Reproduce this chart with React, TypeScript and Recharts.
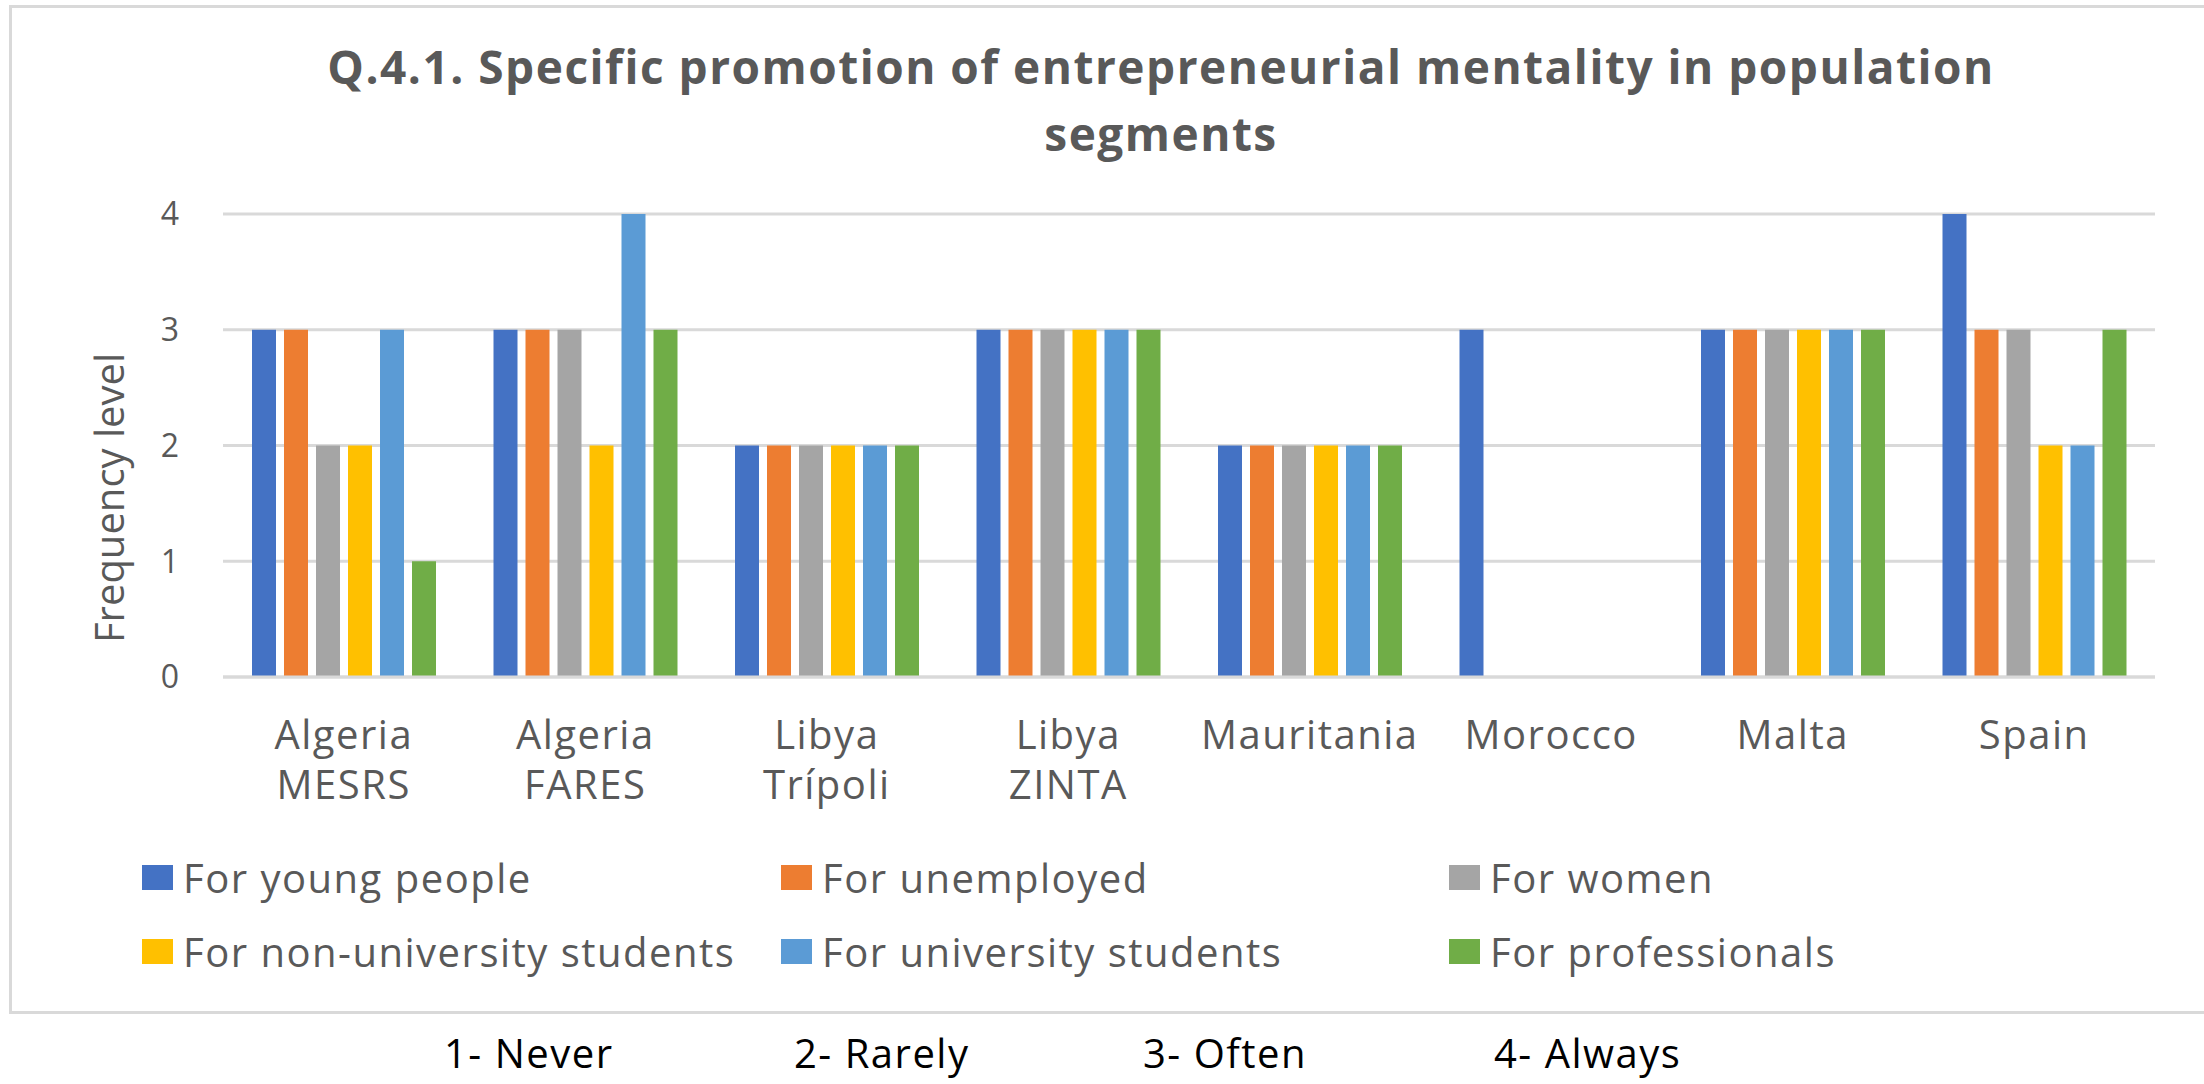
import { BarChart, Bar, XAxis, YAxis, CartesianGrid, Legend } from 'recharts';

const categories = [
  'Algeria MESRS',
  'Algeria FARES',
  'Libya Trípoli',
  'Libya ZINTA',
  'Mauritania',
  'Morocco',
  'Malta',
  'Spain',
];

const youngPeople = [3, 3, 2, 3, 2, 3, 3, 4];
const unemployed = [3, 3, 2, 3, 2, null, 3, 3];
const women = [2, 3, 2, 3, 2, null, 3, 3];
const nonUniversity = [2, 2, 2, 3, 2, null, 3, 2];
const universityStudents = [3, 4, 2, 3, 2, null, 3, 2];
const professionals = [1, 3, 2, 3, 2, null, 3, 3];

const yTicks = [0, 1, 2, 3, 4];
const scaleNotes = ['1- Never', '2- Rarely', '3- Often', '4- Always'];

const series = [
  { key: 'young', name: 'For young people', color: '#4472C4', values: youngPeople },
  { key: 'unemployed', name: 'For unemployed', color: '#ED7D31', values: unemployed },
  { key: 'women', name: 'For women', color: '#A5A5A5', values: women },
  { key: 'nonUni', name: 'For non-university students', color: '#FFC000', values: nonUniversity },
  { key: 'uni', name: 'For university students', color: '#5B9BD5', values: universityStudents },
  { key: 'pro', name: 'For professionals', color: '#70AD47', values: professionals },
];

const chartData = categories.map((cat, i) => {
  const row: { [k: string]: string | number | null } = { category: cat };
  series.forEach((s) => {
    row[s.key] = s.values[i];
  });
  return row;
});

const FONT = '"Open Sans", sans-serif';
const TEXT = '#595959';

// two-line category labels, split on the space
const CategoryTick = ({ x, y, payload }: any) => {
  const lines = String(payload.value).split(' ');
  return (
    <text x={x} y={y} textAnchor="middle" fill={TEXT} fontFamily={FONT} fontSize={40} letterSpacing={1.5}>
      {lines.map((line, i) => (
        <tspan key={i} x={x} dy={i === 0 ? 72 : 50}>
          {line}
        </tspan>
      ))}
    </text>
  );
};

const legendCols = [142, 781, 1449];
const legendRows = [865, 939];

const LegendContent = () => (
  <div style={{ position: 'relative', width: 2204, height: 120 }}>
    {series.map((s, i) => {
      const left = legendCols[i % 3];
      const top = legendRows[Math.floor(i / 3)] - 840;
      return (
        <div key={s.key} style={{ position: 'absolute', left, top, display: 'flex', alignItems: 'center' }}>
          <div style={{ width: 31, height: 25, background: s.color }} />
          <span
            style={{
              marginLeft: 10,
              fontFamily: FONT,
              fontSize: 40,
              letterSpacing: 1.5,
              color: TEXT,
              lineHeight: '25px',
              whiteSpace: 'nowrap',
            }}
          >
            {s.name}
          </span>
        </div>
      );
    })}
  </div>
);

const App = () => {
  return (
    <div style={{ position: 'absolute', left: 0, top: 0, width: 2204, height: 1084, overflow: 'hidden', background: '#fff' }}>
      <div
        style={{
          position: 'absolute',
          left: 9,
          top: 5,
          width: 2220,
          height: 1003,
          border: '3px solid #d9d9d9',
          borderRight: 'none',
        }}
      />
      <div style={{ position: 'absolute', left: 0, top: 0 }}>
        <BarChart
          width={2204}
          height={1084}
          data={chartData}
          margin={{ top: 214, right: 49, bottom: 0, left: 0 }}
          barSize={24}
          barGap={8}
        >
          <CartesianGrid vertical={false} stroke="#d9d9d9" strokeWidth={3} />
          <XAxis
            dataKey="category"
            height={407}
            axisLine={{ stroke: '#d9d9d9', strokeWidth: 3 }}
            tickLine={false}
            tickSize={0}
            tickMargin={0}
            interval={0}
            tick={<CategoryTick />}
          />
          <YAxis
            width={223}
            domain={[0, 4]}
            ticks={yTicks}
            axisLine={false}
            tickLine={false}
            tickSize={0}
            tickMargin={44}
            tick={{ fill: TEXT, fontFamily: FONT, fontSize: 32 }}
            label={() => (
              <text
                x={108}
                y={498}
                transform="rotate(-90, 108, 498)"
                textAnchor="middle"
                dominantBaseline="central"
                fill={TEXT}
                fontFamily={FONT}
                fontSize={40}
              >
                Frequency level
              </text>
            )}
          />
          <Legend
            layout="vertical"
            align="center"
            verticalAlign="middle"
            wrapperStyle={{ left: 0, top: 840, width: 2204, height: 120 }}
            content={<LegendContent />}
          />
          {series.map((s) => (
            <Bar key={s.key} dataKey={s.key} name={s.name} fill={s.color} isAnimationActive={false} />
          ))}
        </BarChart>
      </div>
      <svg width={2204} height={1084} style={{ position: 'absolute', left: 0, top: 0, pointerEvents: 'none' }}>
        <text x={1161} y={84} textAnchor="middle" fill={TEXT} fontFamily={FONT} fontWeight="bold" fontSize={46} letterSpacing={1.5}>
          Q.4.1. Specific promotion of entrepreneurial mentality in population
        </text>
        <text x={1161} y={151} textAnchor="middle" fill={TEXT} fontFamily={FONT} fontWeight="bold" fontSize={46} letterSpacing={1.5}>
          segments
        </text>
        {scaleNotes.map((note, i) => (
          <text key={note} x={[444, 794, 1143, 1494][i]} y={1068} fill="#000" fontFamily={FONT} fontSize={40} letterSpacing={1.5}>
            {note}
          </text>
        ))}
      </svg>
    </div>
  );
};

export default App;
